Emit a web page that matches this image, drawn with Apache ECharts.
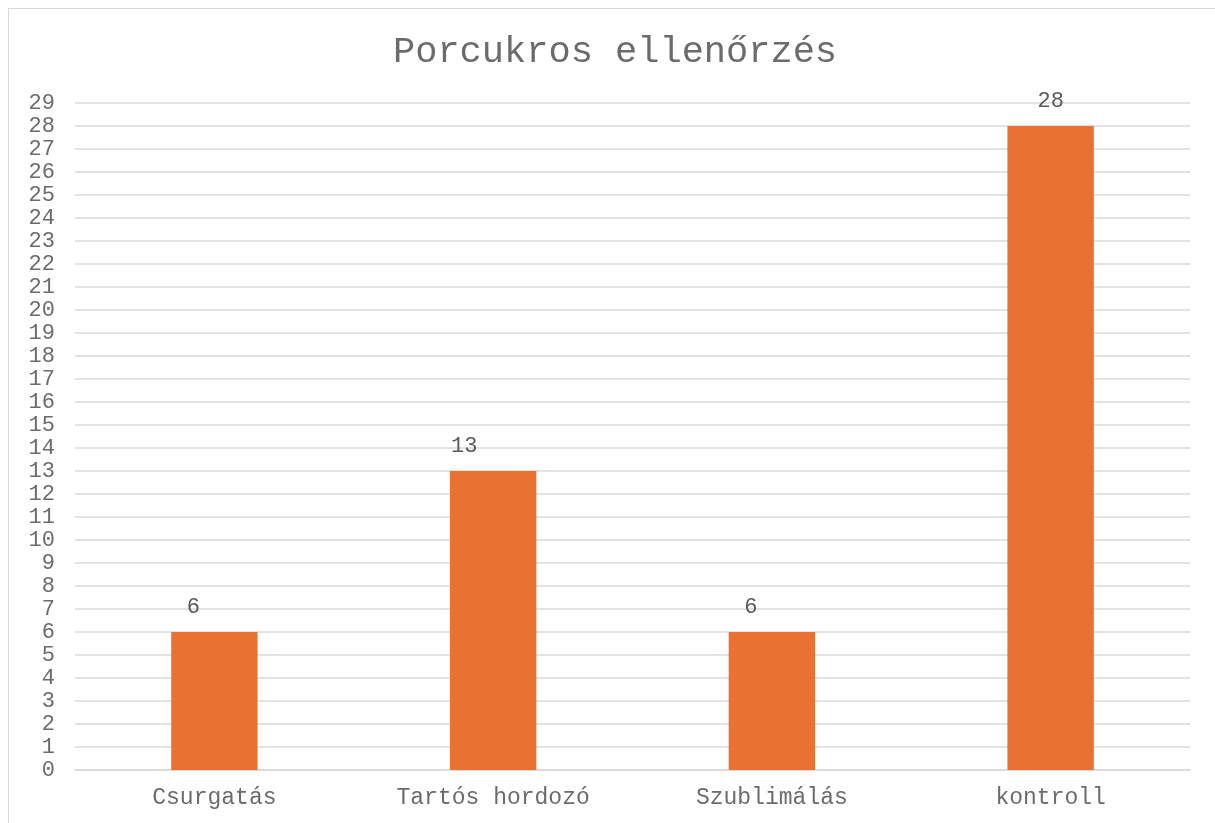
<!DOCTYPE html>
<html><head><meta charset="utf-8">
<script src="https://cdn.jsdelivr.net/npm/echarts@6/dist/echarts.min.js"></script>
<style>
html,body{margin:0;padding:0;background:#fff;}
#frame{position:absolute;left:8px;top:8px;width:1300px;height:900px;border:1.5px solid #d9d9d9;box-sizing:border-box;}
#c{position:absolute;left:0;top:0;width:1215px;height:823px;}
</style></head>
<body>
<div id="frame"></div>
<div id="c"></div>
<script>
const categories = ['Csurgatás', 'Tartós hordozó', 'Szublimálás', 'kontroll'];
const values = [6, 13, 6, 28];
const titleText = 'Porcukros ellenőrzés';
const FONT = '"Liberation Mono", "Courier New", monospace';
const labelShift = [-21, -29, -21, 0];
const chart = echarts.init(document.getElementById('c'));
chart.setOption({
  animation: false,
  title: {
    text: titleText, left: 388, top: 29,
    textStyle: { fontFamily: FONT, fontSize: 37, fontWeight: 'normal', color: '#6b6b6b' }
  },
  grid: { left: 75, right: 25, top: 103, bottom: 53, containLabel: false },
  xAxis: {
    type: 'category', data: categories,
    axisLine: { lineStyle: { color: '#d9d9d9', width: 1.5 } },
    axisTick: { show: false },
    axisLabel: { fontFamily: FONT, fontSize: 23, color: '#6b6b6b', margin: 16 }
  },
  yAxis: {
    type: 'value', min: 0, max: 29, interval: 1,
    axisLine: { show: false }, axisTick: { show: false },
    splitLine: { lineStyle: { color: '#d9d9d9', width: 1.5 } },
    axisLabel: { fontFamily: FONT, fontSize: 22, color: '#6b6b6b', margin: 20 }
  },
  series: [{
    type: 'bar',
    data: values.map((v, i) => ({ value: v, label: { offset: [labelShift[i], 0] } })),
    barWidth: '31%',
    itemStyle: { color: '#E97132' },
    label: { show: true, position: 'top', distance: 14, fontFamily: FONT, fontSize: 22, color: '#595959' }
  }]
});
</script>
</body></html>
